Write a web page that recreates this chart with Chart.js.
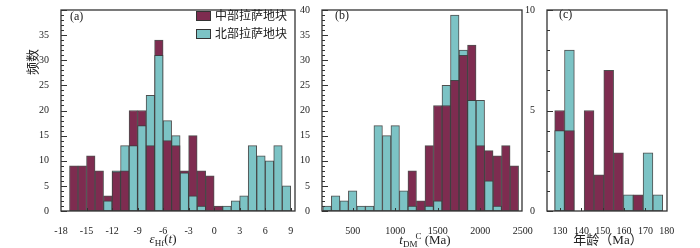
<!DOCTYPE html>
<html>
<head>
<meta charset="utf-8">
<script src="https://cdn.jsdelivr.net/npm/chart.js@4.4.1/dist/chart.umd.min.js"></script>
<style>
  body { margin: 0; background: #fff; }
  #wrap { position: relative; width: 700px; height: 248px; overflow: hidden;
          font-family: 'Liberation Serif', 'Noto Sans CJK SC', serif; color: #222; }
  canvas { position: absolute; left: 0; top: 0; }
  .t { position: absolute; transform: translate(-50%, -50%); white-space: nowrap; line-height: 1; }
  .t sub, .t sup { font-size: 9px; line-height: 0; }
  .pl { position: absolute; font-size: 12px; line-height: 12px; }
  .key { position: absolute; width: 13px; height: 8px; border: 1.5px solid #333; }
  .keytxt { position: absolute; font-family: 'Noto Sans CJK SC', sans-serif; font-size: 12px; line-height: 12px; color: #222; }
</style>
</head>
<body>
<div id="wrap">
  <canvas id="ca" width="700" height="248"></canvas>
  <canvas id="cb" width="700" height="248"></canvas>
  <canvas id="cc" width="700" height="248"></canvas>

  <div class="t" style="left:31px;top:62px;transform:translate(-50%,-50%) rotate(-90deg);font-family:'Noto Sans CJK SC',sans-serif;font-size:13px;">频数</div>

  <div class="pl" style="left:70px;top:10px;">(a)</div>
  <div class="pl" style="left:335px;top:9px;">(b)</div>
  <div class="pl" style="left:559px;top:8px;">(c)</div>

  <div class="key" style="left:196px;top:11px;background:#7e2c50;"></div>
  <div class="keytxt" style="left:215px;top:9px;">中部拉萨地块</div>
  <div class="key" style="left:196px;top:29px;background:#7cc3c5;"></div>
  <div class="keytxt" style="left:215px;top:27px;">北部拉萨地块</div>

  <div class="t" style="left:163px;top:238px;font-size:13px;"><i>ε</i><sub>Hf</sub>(<i>t</i>)</div>
  <div class="t" style="left:425px;top:239px;font-size:13px;"><i>t</i><sub>DM</sub><sup style="margin-left:-2px;">C</sup> (Ma)</div>
  <div class="t" style="left:608px;top:239px;font-size:13px;">年龄（Ma）</div>
</div>

<script>
  "use strict";
  // (a) εHf(t) histogram, bin centres (width 1)
  const hfBins = [-16.5, -15.5, -14.5, -13.5, -12.5, -11.5, -10.5, -9.5, -8.5, -7.5, -6.5, -5.5, -4.5,
                  -3.5, -2.5, -1.5, -0.5, 0.5, 1.5, 2.5, 3.5, 4.5, 5.5, 6.5, 7.5, 8.5];
  const hfCentral  = [9, 9, 11, 8, 3, 7.8, 8, 20, 20, 13, 34, 14, 13, 8, 15, 8, 7, 1, 0, 0, 0, 0, 0, 0, 0, 0];
  const hfNorthern = [0, 0, 0, 0, 2, 8, 13, 13, 17, 23, 31, 18, 15, 7.6, 3, 1, 0, 0, 1, 2, 3, 13, 11, 10, 13, 5];
  const hfTicksX = [-18, -15, -12, -9, -6, -3, 0, 3, 6, 9];
  const hfTicksY = [0, 5, 10, 15, 20, 25, 30, 35];

  // (b) tDM^C histogram, bin centres (width 100 Ma)
  const tdmBins = [200, 300, 400, 500, 600, 700, 800, 900, 1000, 1100, 1200, 1300, 1400, 1500,
                   1600, 1700, 1800, 1900, 2000, 2100, 2200, 2300, 2400];
  const tdmCentral  = [0, 0, 0, 0, 0, 0, 0, 0, 0, 0, 8, 2, 13, 21, 21, 26, 31, 33, 13, 12, 11, 13, 9];
  const tdmNorthern = [1, 3, 2, 4, 1, 1, 17, 15, 17, 4, 1, 0, 1, 2, 25, 39, 32, 22, 22, 6, 1, 0, 0];
  const tdmTicksX = [500, 1000, 1500, 2000, 2500];
  const tdmTicksY = [0, 5, 10, 15, 20, 25, 30, 35, 40];

  // (c) age histogram, bin centres
  const ageBins = [129.8, 134.4, 139, 143.6, 148.2, 152.8, 157.4, 162, 166.6, 171.2, 175.8];
  const ageCentral  = [5, 4, 0, 5, 1.8, 7, 2.9, 0, 0.8, 0, 0];
  const ageNorthern = [4, 8, 0, 0, 0, 0, 0, 0.8, 0, 2.9, 0.8];
  const ageTicksX = [130, 140, 150, 160, 170, 180];
  const ageTicksY = [0, 5, 10];

  const MAROON = "#7e2c50";
  const CYAN = "#7cc3c5";
  const EDGE = "rgba(60,60,60,0.9)";
  const tickFont = { family: "'Liberation Serif', 'Times New Roman', serif", size: 10 };

  // frame round the plot area + inward ticks on the y axis
  const frameAndTicks = {
    id: "frameAndTicks",
    afterDatasetsDraw(chart, args, o) {
      const { ctx, chartArea: a } = chart;
      const x = chart.scales.x, y = chart.scales.y;
      ctx.save();
      ctx.strokeStyle = "#333";
      ctx.lineWidth = 1;
      ctx.beginPath();
      for (let v = y.min; v <= y.max + 1e-6; v += 1) {
        const py = Math.round(y.getPixelForValue(v)) + 0.5;
        const len = Math.abs(v % 5) < 1e-6 ? 6 : 3;
        ctx.moveTo(a.left, py);
        ctx.lineTo(a.left + len, py);
      }
      x.ticks.forEach(t => {
        const px = Math.round(x.getPixelForValue(t.value)) + 0.5;
        if (px > a.left + 1 && px < a.right - 1) {
          ctx.moveTo(px, a.bottom);
          ctx.lineTo(px, a.bottom - 3);
        }
      });
      ctx.stroke();
      ctx.lineWidth = 1.3;
      ctx.strokeRect(a.left, a.top, a.right - a.left, a.bottom - a.top);
      ctx.restore();
    }
  };

  function makePanel(id, bins, central, northern, ticksX, ticksY, xr, yMax, area) {
    // shorter bar of each bin sits in front of the taller one
    const back = [], front = [], backCol = [], frontCol = [];
    bins.forEach((b, i) => {
      const m = central[i], n = northern[i];
      const mFront = m <= n;
      back.push({ x: b, y: Math.max(m, n) || null });
      front.push({ x: b, y: Math.min(m, n) || null });
      backCol.push(mFront ? CYAN : MAROON);
      frontCol.push(mFront ? MAROON : CYAN);
    });
    const common = {
      borderColor: EDGE, borderWidth: 1, borderSkipped: false,
      grouped: false, barPercentage: 1, categoryPercentage: 1
    };
    return new Chart(document.getElementById(id), {
      type: "bar",
      data: {
        datasets: [
          Object.assign({ label: "front", data: front, backgroundColor: frontCol, order: 0 }, common),
          Object.assign({ label: "back", data: back, backgroundColor: backCol, order: 1 }, common)
        ]
      },
      options: {
        responsive: false,
        animation: false,
        layout: { padding: { left: area.left - 40, right: 700 - area.right, top: 3, bottom: 7 } },
        plugins: { legend: { display: false }, tooltip: { enabled: false } },
        scales: {
          x: {
            type: "linear", min: xr[0], max: xr[1], offset: false,
            grid: { display: false }, border: { display: false },
            ticks: { font: tickFont, color: "#222", padding: 6, autoSkip: false, maxRotation: 0,
                     callback: v => String(v) },
            afterBuildTicks: s => { s.ticks = ticksX.map(v => ({ value: v })); },
            afterFit: s => { s.height = 30; }
          },
          y: {
            min: 0, max: yMax,
            grid: { display: false }, border: { display: false },
            ticks: { font: tickFont, color: "#222", padding: 4, callback: v => String(v) },
            afterBuildTicks: s => { s.ticks = ticksY.map(v => ({ value: v })); },
            afterFit: s => { s.width = 40; }
          }
        }
      },
      plugins: [frameAndTicks]
    });
  }

  makePanel("ca", hfBins, hfCentral, hfNorthern, hfTicksX, hfTicksY, [-18, 9.5], 40, { left: 61, right: 295 });
  makePanel("cb", tdmBins, tdmCentral, tdmNorthern, tdmTicksX, tdmTicksY, [140, 2490], 40, { left: 322, right: 522 });
  makePanel("cc", ageBins, ageCentral, ageNorthern, ageTicksX, ageTicksY, [123.9, 180.1], 10, { left: 547, right: 667 });
</script>
</body>
</html>
